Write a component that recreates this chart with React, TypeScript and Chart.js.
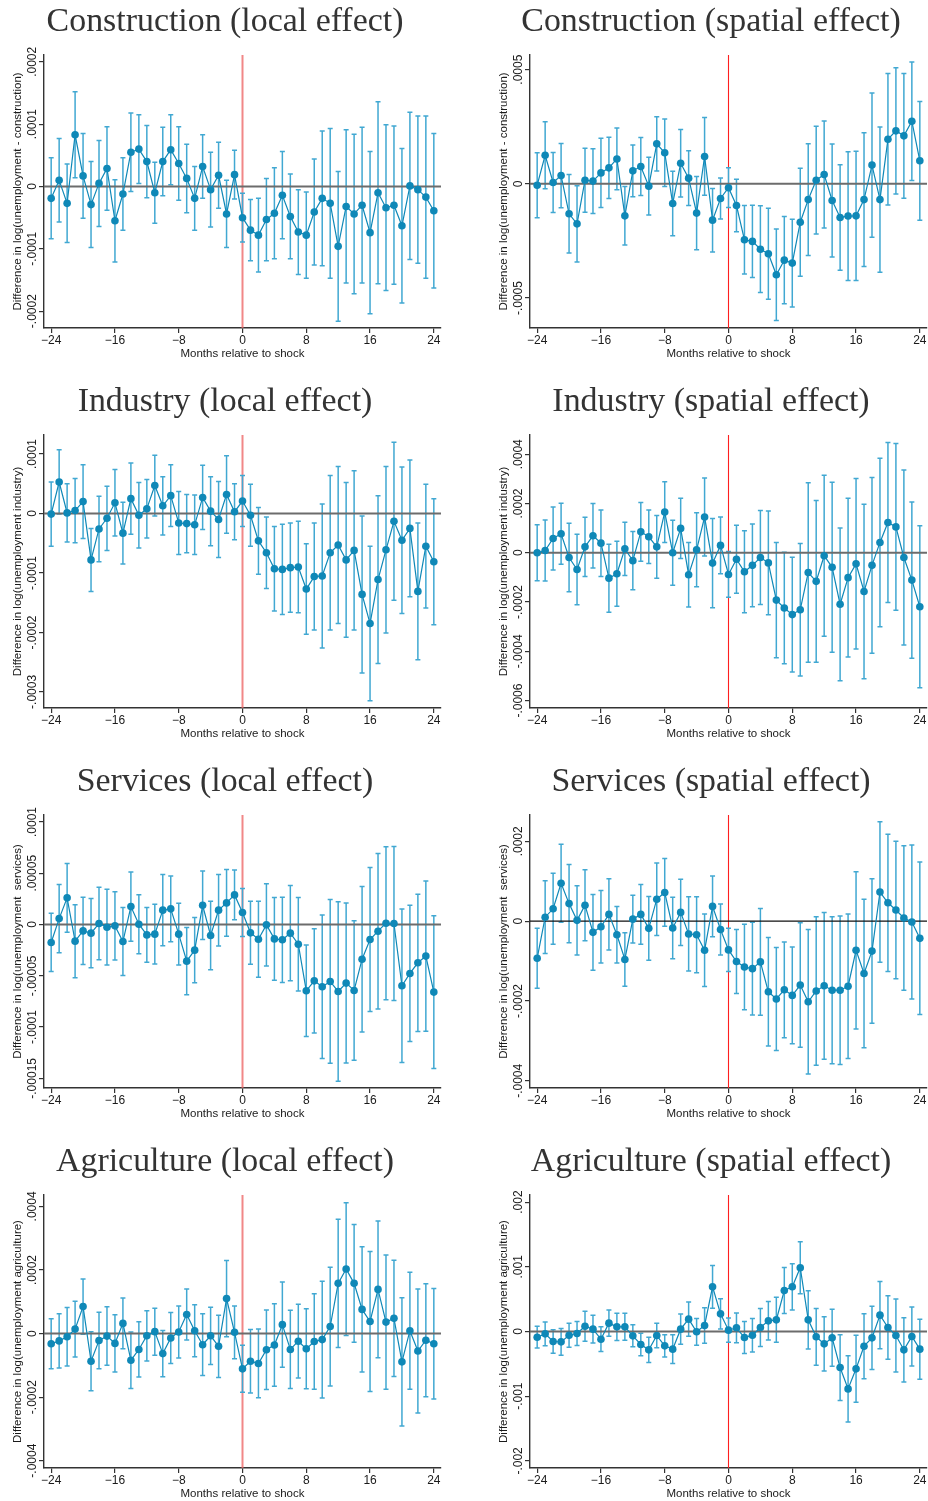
import { useEffect, useRef } from "react"
import { Chart, registerables } from "chart.js"

Chart.register(...registerables)

// Event time, months relative to the shock
const months = Array.from({ length: 49 }, (_, i) => i - 24)
const xTicks = [-24, -16, -8, 0, 8, 16, 24]

// All coefficients and half-widths of the confidence intervals are in units of 1e-4
const constructionLocalCoef = [
  -0.19, 0.1, -0.27, 0.83, 0.17, -0.29, 0.05, 0.29,
  -0.55, -0.12, 0.55, 0.6, 0.4, -0.1, 0.4, 0.59,
  0.37, 0.13, -0.19, 0.32, -0.05, 0.18, -0.44, 0.19,
  -0.5, -0.7, -0.78, -0.53, -0.43, -0.14, -0.48, -0.73,
  -0.78, -0.41, -0.19, -0.27, -0.96, -0.32, -0.44, -0.3,
  -0.74, -0.1, -0.34, -0.3, -0.63, 0.01, -0.05, -0.17, -0.39,
]
const constructionLocalCi = [
  0.65, 0.67, 0.63, 0.69, 0.68, 0.69, 0.69, 0.67,
  0.66, 0.58, 0.63, 0.55, 0.58, 0.49, 0.55, 0.56,
  0.59, 0.55, 0.51, 0.51, 0.6, 0.53, 0.54, 0.39,
  0.39, 0.49, 0.59, 0.66, 0.73, 0.7, 0.68, 0.68,
  0.69, 0.85, 1.08, 1.2, 1.2, 1.23, 1.28, 1.25,
  1.3, 1.46, 1.33, 1.27, 1.24, 1.18, 1.18, 1.3, 1.24,
]

const constructionSpatialCoef = [
  -0.06, 1.25, 0.06, 0.36, -1.31, -1.75, 0.16, 0.12,
  0.48, 0.7, 1.09, -1.4, 0.57, 0.76, -0.1, 1.75,
  1.36, -0.86, 0.9, 0.25, -1.28, 1.2, -1.59, -0.64,
  -0.17, -0.95, -2.45, -2.52, -2.86, -3.06, -3.98, -3.34,
  -3.47, -1.68, -0.69, 0.16, 0.41, -0.73, -1.47, -1.41,
  -1.4, -0.69, 0.82, -0.69, 1.95, 2.32, 2.1, 2.74, 1.01,
]
const constructionSpatialCi = [
  1.42, 1.47, 1.31, 1.41, 1.72, 1.67, 1.4, 1.42,
  1.52, 1.34, 1.35, 1.28, 1.13, 1.27, 1.26, 1.19,
  1.48, 1.41, 1.48, 1.2, 1.6, 1.7, 1.39, 0.9,
  0.87, 1.15, 1.5, 1.58, 1.9, 1.99, 2.0, 1.91,
  1.92, 2.36, 2.45, 2.36, 2.34, 2.47, 2.31, 2.82,
  2.83, 2.93, 3.16, 3.18, 2.88, 2.76, 2.73, 2.59, 2.6,
]

const industryLocalCoef = [
  -0.01, 0.53, 0.01, 0.05, 0.2, -0.78, -0.26, -0.08,
  0.18, -0.33, 0.25, -0.03, 0.08, 0.47, 0.13, 0.3,
  -0.16, -0.17, -0.19, 0.27, 0.04, -0.1, 0.32, 0.03,
  0.21, -0.03, -0.46, -0.66, -0.93, -0.94, -0.91, -0.9,
  -1.27, -1.06, -1.05, -0.66, -0.53, -0.78, -0.62, -1.36,
  -1.85, -1.11, -0.61, -0.13, -0.45, -0.25, -1.31, -0.55, -0.81,
]
const industryLocalCi = [
  0.54, 0.54, 0.49, 0.54, 0.62, 0.53, 0.55, 0.54,
  0.56, 0.52, 0.6, 0.55, 0.49, 0.51, 0.49, 0.52,
  0.53, 0.49, 0.5, 0.54, 0.58, 0.64, 0.65, 0.47,
  0.43, 0.52, 0.56, 0.6, 0.71, 0.76, 0.75, 0.77,
  0.76, 0.9, 1.21, 1.3, 1.32, 1.3, 1.34, 1.32,
  1.3, 1.41, 1.4, 1.33, 1.23, 1.15, 1.15, 1.04, 1.06,
]

const industrySpatialCoef = [
  0.0, 0.09, 0.58, 0.77, -0.19, -0.68, 0.24, 0.69,
  0.39, -1.03, -0.85, 0.16, -0.32, 0.85, 0.65, 0.24,
  1.65, 0.0, 0.99, -0.89, 0.12, 1.45, -0.42, 0.3,
  -0.88, -0.26, -0.77, -0.51, -0.19, -0.41, -1.92, -2.24,
  -2.51, -2.31, -0.8, -1.16, -0.12, -0.59, -2.09, -1.01,
  -0.45, -1.57, -0.51, 0.42, 1.23, 1.05, -0.19, -1.11, -2.19,
]
const industrySpatialCi = [
  1.14, 1.24, 1.28, 1.24, 1.39, 1.43, 1.2, 1.31,
  1.35, 1.38, 1.32, 1.08, 1.18, 1.19, 1.09, 1.27,
  1.23, 1.32, 1.22, 1.31, 1.5, 1.58, 1.81, 1.15,
  0.93, 1.38, 1.66, 1.68, 1.91, 2.11, 2.34, 2.26,
  2.33, 2.69, 3.64, 3.28, 3.27, 3.45, 3.1, 3.22,
  3.46, 3.54, 3.57, 3.42, 3.25, 3.38, 3.55, 3.17, 3.29,
]

const servicesLocalCoef = [
  -0.175, 0.058, 0.26, -0.162, -0.062, -0.084, 0.01, -0.026,
  -0.013, -0.166, 0.175, 0.003, -0.101, -0.094, 0.14, 0.153,
  -0.094, -0.357, -0.25, 0.188, -0.107, 0.14, 0.211, 0.289,
  0.117, -0.081, -0.143, -0.003, -0.14, -0.149, -0.084, -0.192,
  -0.646, -0.549, -0.607, -0.555, -0.653, -0.571, -0.643, -0.338,
  -0.146, -0.065, 0.013, 0.01, -0.597, -0.477, -0.373, -0.308, -0.659,
]
const servicesLocalCi = [
  0.284, 0.333, 0.336, 0.356, 0.328, 0.338, 0.354, 0.369,
  0.333, 0.332, 0.338, 0.288, 0.266, 0.292, 0.348, 0.32,
  0.301, 0.328, 0.318, 0.333, 0.333, 0.349, 0.325, 0.242,
  0.234, 0.307, 0.37, 0.401, 0.404, 0.416, 0.465, 0.455,
  0.447, 0.508, 0.7, 0.798, 0.874, 0.78, 0.68, 0.71,
  0.703, 0.758, 0.746, 0.75, 0.748, 0.664, 0.669, 0.732, 0.744,
]

const servicesSpatialCoef = [
  -0.93, 0.1, 0.31, 0.95, 0.44, 0.02, 0.4, -0.28,
  -0.14, 0.17, -0.34, -0.96, 0.05, 0.17, -0.18, 0.55,
  0.72, -0.17, 0.22, -0.32, -0.34, -0.73, 0.37, -0.21,
  -0.72, -1.01, -1.15, -1.19, -1.02, -1.77, -1.95, -1.72,
  -1.86, -1.6, -2.02, -1.75, -1.62, -1.73, -1.73, -1.63,
  -0.73, -1.31, -0.75, 0.73, 0.46, 0.28, 0.08, -0.02, -0.43,
]
const servicesSpatialCi = [
  0.75, 0.91, 0.89, 0.98, 0.98, 0.87, 0.89, 0.95,
  0.91, 0.89, 0.71, 0.67, 0.6, 0.75, 0.8, 0.91,
  0.85, 0.77, 0.83, 0.93, 0.95, 0.91, 0.76, 0.64,
  0.54, 0.8, 1.07, 1.16, 1.34, 1.36, 1.29, 1.2,
  1.21, 1.56, 1.81, 1.86, 1.84, 1.84, 1.86, 1.81,
  1.97, 1.86, 1.81, 1.76, 1.72, 1.72, 1.81, 1.93, 1.91,
]

const agricultureLocalCoef = [
  -0.32, -0.23, -0.1, 0.14, 0.85, -0.87, -0.22, -0.08,
  -0.31, 0.32, -0.84, -0.5, -0.07, 0.06, -0.63, -0.14,
  0.05, 0.6, 0.09, -0.35, -0.07, -0.4, 1.1, 0.04,
  -1.11, -0.87, -0.94, -0.51, -0.36, 0.28, -0.5, -0.24,
  -0.48, -0.25, -0.19, 0.22, 1.58, 2.03, 1.58, 0.76,
  0.38, 1.39, 0.36, 0.48, -0.89, 0.09, -0.55, -0.21, -0.32,
]
const agricultureLocalCi = [
  0.79, 0.85, 0.92, 0.88, 0.87, 0.93, 0.89, 0.92,
  0.9, 0.8, 0.89, 0.87, 0.79, 0.74, 0.73, 0.8,
  0.82, 0.8, 0.82, 0.97, 0.9, 0.98, 1.2, 0.83,
  0.74, 1.0, 1.08, 1.25, 1.3, 1.34, 1.23, 1.16,
  1.26, 1.5, 1.84, 1.87, 2.02, 2.09, 1.85, 1.97,
  2.2, 2.15, 2.11, 1.83, 2.02, 1.84, 1.95, 1.78, 1.74,
]

const agricultureSpatialCoef = [
  -0.88, -0.36, -1.55, -1.6, -0.57, -0.31, 0.82, 0.36,
  -1.19, 1.29, 0.72, 0.72, -0.67, -2.01, -2.84, -0.62,
  -2.22, -2.73, 0.36, 1.91, -0.05, 0.93, 6.91, 2.73,
  0.21, 0.57, -0.93, -0.57, 0.62, 1.65, 1.8, 6.34,
  6.91, 9.85, 1.8, -0.82, -1.91, -0.98, -5.57, -8.87,
  -5.77, -2.27, -0.98, 2.53, 0.62, -0.62, -2.84, -0.77, -2.73,
]
const agricultureSpatialCi = [
  1.68, 1.83, 1.83, 2.06, 1.86, 1.86, 2.32, 2.14,
  1.91, 2.04, 2.12, 2.09, 1.7, 1.75, 1.96, 1.91,
  1.73, 2.22, 2.35, 2.66, 2.06, 2.76, 3.3, 2.35,
  1.88, 2.3, 2.48, 2.58, 2.92, 2.97, 3.48, 3.56,
  3.58, 4.02, 4.51, 4.39, 4.2, 4.41, 5.08, 5.11,
  5.18, 5.03, 4.88, 5.18, 4.9, 5.65, 4.95, 4.56, 4.64,
]

const UNIT = 1e-4

type PanelCfg = {
  title: string
  yTitle: string
  coef: number[]
  ci: number[]
  yMin: number
  yMax: number
  yTicks: number[]
  spatial: boolean
  zeroColor?: string
  zeroWidth?: number
}

const panels: PanelCfg[] = [
  { title: "Construction (local effect)", yTitle: "Difference in log(unemployment - construction)", coef: constructionLocalCoef, ci: constructionLocalCi, yMin: -2.27, yMax: 2.11, yTicks: [-2, -1, 0, 1, 2], spatial: false },
  { title: "Construction (spatial effect)", yTitle: "Difference in log(unemployment - construction)", coef: constructionSpatialCoef, ci: constructionSpatialCi, yMin: -6.31, yMax: 5.64, yTicks: [-5, 0, 5], spatial: true },
  { title: "Industry (local effect)", yTitle: "Difference in log(unemployment industry)", coef: industryLocalCoef, ci: industryLocalCi, yMin: -3.27, yMax: 1.32, yTicks: [-3, -2, -1, 0, 1], spatial: false },
  { title: "Industry (spatial effect)", yTitle: "Difference in log(unemployment industry)", coef: industrySpatialCoef, ci: industrySpatialCi, yMin: -6.3, yMax: 4.78, yTicks: [-6, -4, -2, 0, 2, 4], spatial: true },
  { title: "Services (local effect)", yTitle: "Difference in log(unemployment  services)", coef: servicesLocalCoef, ci: servicesLocalCi, yMin: -1.594, yMax: 1.068, yTicks: [-1.5, -1, -0.5, 0, 0.5, 1], spatial: false },
  { title: "Services (spatial effect)", yTitle: "Difference in log(unemployment  services)", coef: servicesSpatialCoef, ci: servicesSpatialCi, yMin: -4.18, yMax: 2.66, yTicks: [-4, -2, 0, 2], spatial: true, zeroColor: "#111111", zeroWidth: 1.3 },
  { title: "Agriculture (local effect)", yTitle: "Difference in log(unemployment agriculture)", coef: agricultureLocalCoef, ci: agricultureLocalCi, yMin: -4.23, yMax: 4.36, yTicks: [-4, -2, 0, 2, 4], spatial: false },
  { title: "Agriculture (spatial effect)", yTitle: "Difference in log(unemployment agriculture)", coef: agricultureSpatialCoef, ci: agricultureSpatialCi, yMin: -21.1, yMax: 21.1, yTicks: [-20, -10, 0, 10, 20], spatial: true },
]

const W = 442
const H = 360
const POINT = "#0f88b7"
const BAR = "#41a8d2"
const AXIS = "#333333"
const TEXT = "#1a1a1a"
const SANS = '"Liberation Sans", Arial, sans-serif'
const SERIF = '"Liberation Serif", "Times New Roman", serif'

// Stata style numbers: .0002, -.0001, 0
function fmtY(v: number) {
  const real = v * UNIT
  if (Math.abs(real) < 1e-12) return "0"
  const s = Math.abs(real).toFixed(6).replace(/0+$/, "").replace(/^0/, "")
  return (real < 0 ? "-" : "") + s
}

function fmtX(v: number) {
  return v < 0 ? "\u2212" + Math.abs(v) : String(v)
}

function Panel({ cfg, left, top }: { cfg: PanelCfg; left: number; top: number }) {
  const ref = useRef<HTMLCanvasElement>(null)

  useEffect(() => {
    const canvas = ref.current
    if (!canvas) return

    const overlay = {
      id: "overlay",
      beforeDatasetsDraw(chart: any) {
        const { ctx, chartArea: a, scales } = chart
        const x = scales.x
        const y = scales.y
        ctx.save()
        ctx.beginPath()
        ctx.rect(a.left, a.top, a.right - a.left, a.bottom - a.top)
        ctx.clip()

        // shock line
        const xs = x.getPixelForValue(0)
        ctx.strokeStyle = cfg.spatial ? "#ff1f1f" : "rgba(238,105,105,0.8)"
        ctx.lineWidth = cfg.spatial ? 1.1 : 2
        ctx.beginPath()
        ctx.moveTo(xs, a.top)
        ctx.lineTo(xs, a.bottom)
        ctx.stroke()

        // confidence intervals
        ctx.strokeStyle = BAR
        ctx.lineWidth = 1.5
        months.forEach((m, i) => {
          const px = x.getPixelForValue(m)
          const hi = y.getPixelForValue(cfg.coef[i] + cfg.ci[i])
          const lo = y.getPixelForValue(cfg.coef[i] - cfg.ci[i])
          ctx.beginPath()
          ctx.moveTo(px, hi)
          ctx.lineTo(px, lo)
          ctx.moveTo(px - 2.5, hi)
          ctx.lineTo(px + 2.5, hi)
          ctx.moveTo(px - 2.5, lo)
          ctx.lineTo(px + 2.5, lo)
          ctx.stroke()
        })

        // zero line
        const y0 = y.getPixelForValue(0)
        ctx.strokeStyle = cfg.zeroColor || "#6c6c6c"
        ctx.lineWidth = cfg.zeroWidth || 2
        ctx.beginPath()
        ctx.moveTo(a.left, y0)
        ctx.lineTo(a.right, y0)
        ctx.stroke()
        ctx.restore()
      },
      afterDraw(chart: any) {
        const { ctx, chartArea: a, scales } = chart
        const x = scales.x
        const y = scales.y
        ctx.save()

        // panel title, sized so the reference title spans 357px
        ctx.font = `100px ${SERIF}`
        const refW = ctx.measureText("Construction (local effect)").width
        const size = (100 * 357) / refW
        ctx.font = `${size}px ${SERIF}`
        ctx.textAlign = "center"
        ctx.textBaseline = "alphabetic"
        ctx.fillStyle = "#333333"
        ctx.fillText(cfg.title, 225, 31)

        // x tick labels
        ctx.fillStyle = TEXT
        ctx.font = `12px ${SANS}`
        xTicks.forEach((v) => {
          ctx.fillText(fmtX(v), x.getPixelForValue(v), 343.5)
        })

        // x title
        ctx.font = `11.5px ${SANS}`
        ctx.fillText("Months relative to shock", (a.left + a.right) / 2, 356.5)

        // y tick labels, rotated
        ctx.font = `12px ${SANS}`
        cfg.yTicks.forEach((v) => {
          ctx.save()
          ctx.translate(35.5, y.getPixelForValue(v))
          ctx.rotate(-Math.PI / 2)
          ctx.fillText(fmtY(v), 0, 0)
          ctx.restore()
        })

        // y title
        ctx.font = `11.5px ${SANS}`
        ctx.save()
        ctx.translate(21, (a.top + a.bottom) / 2)
        ctx.rotate(-Math.PI / 2)
        ctx.fillText(cfg.yTitle, 0, 0)
        ctx.restore()

        ctx.restore()
      },
    }

    const axisGrid = {
      drawOnChartArea: false,
      drawTicks: true,
      tickLength: 5,
      color: AXIS,
      lineWidth: 1.2,
    }

    const chart = new Chart(canvas, {
      type: "line",
      data: {
        datasets: [
          {
            data: months.map((m, i) => ({ x: m, y: cfg.coef[i] })),
            borderColor: POINT,
            backgroundColor: POINT,
            borderWidth: 1.2,
            pointRadius: 3.8,
            pointBorderWidth: 0,
            pointBackgroundColor: POINT,
            tension: 0,
          },
        ],
      },
      options: {
        animation: false,
        responsive: false,
        events: [],
        layout: { padding: { top: 55, right: 1, left: 0, bottom: 0 }, autoPadding: false },
        plugins: { legend: { display: false }, tooltip: { enabled: false } },
        scales: {
          x: {
            type: "linear",
            min: -24.9,
            max: 24.9,
            afterBuildTicks: (s: any) => {
              s.ticks = xTicks.map((v) => ({ value: v }))
            },
            afterFit: (s: any) => {
              s.height = 32
            },
            ticks: { display: false },
            grid: axisGrid,
            border: { color: AXIS, width: 1.4 },
          },
          y: {
            type: "linear",
            min: cfg.yMin,
            max: cfg.yMax,
            afterBuildTicks: (s: any) => {
              s.ticks = cfg.yTicks.map((v) => ({ value: v }))
            },
            afterFit: (s: any) => {
              s.width = 44
            },
            ticks: { display: false },
            grid: axisGrid,
            border: { color: AXIS, width: 1.4 },
          },
        },
      } as any,
      plugins: [overlay],
    })

    return () => chart.destroy()
  }, [cfg])

  return (
    <canvas
      ref={ref}
      width={W}
      height={H}
      style={{ position: "absolute", left, top, width: W, height: H }}
    />
  )
}

export default function App() {
  return (
    <div
      style={{
        position: "absolute",
        left: 0,
        top: 0,
        width: 928,
        height: 1501,
        overflow: "hidden",
        background: "#ffffff",
      }}
    >
      {panels.map((p, i) => (
        <Panel key={p.title} cfg={p} left={i % 2 === 0 ? 0 : 486} top={Math.floor(i / 2) * 380} />
      ))}
    </div>
  )
}
